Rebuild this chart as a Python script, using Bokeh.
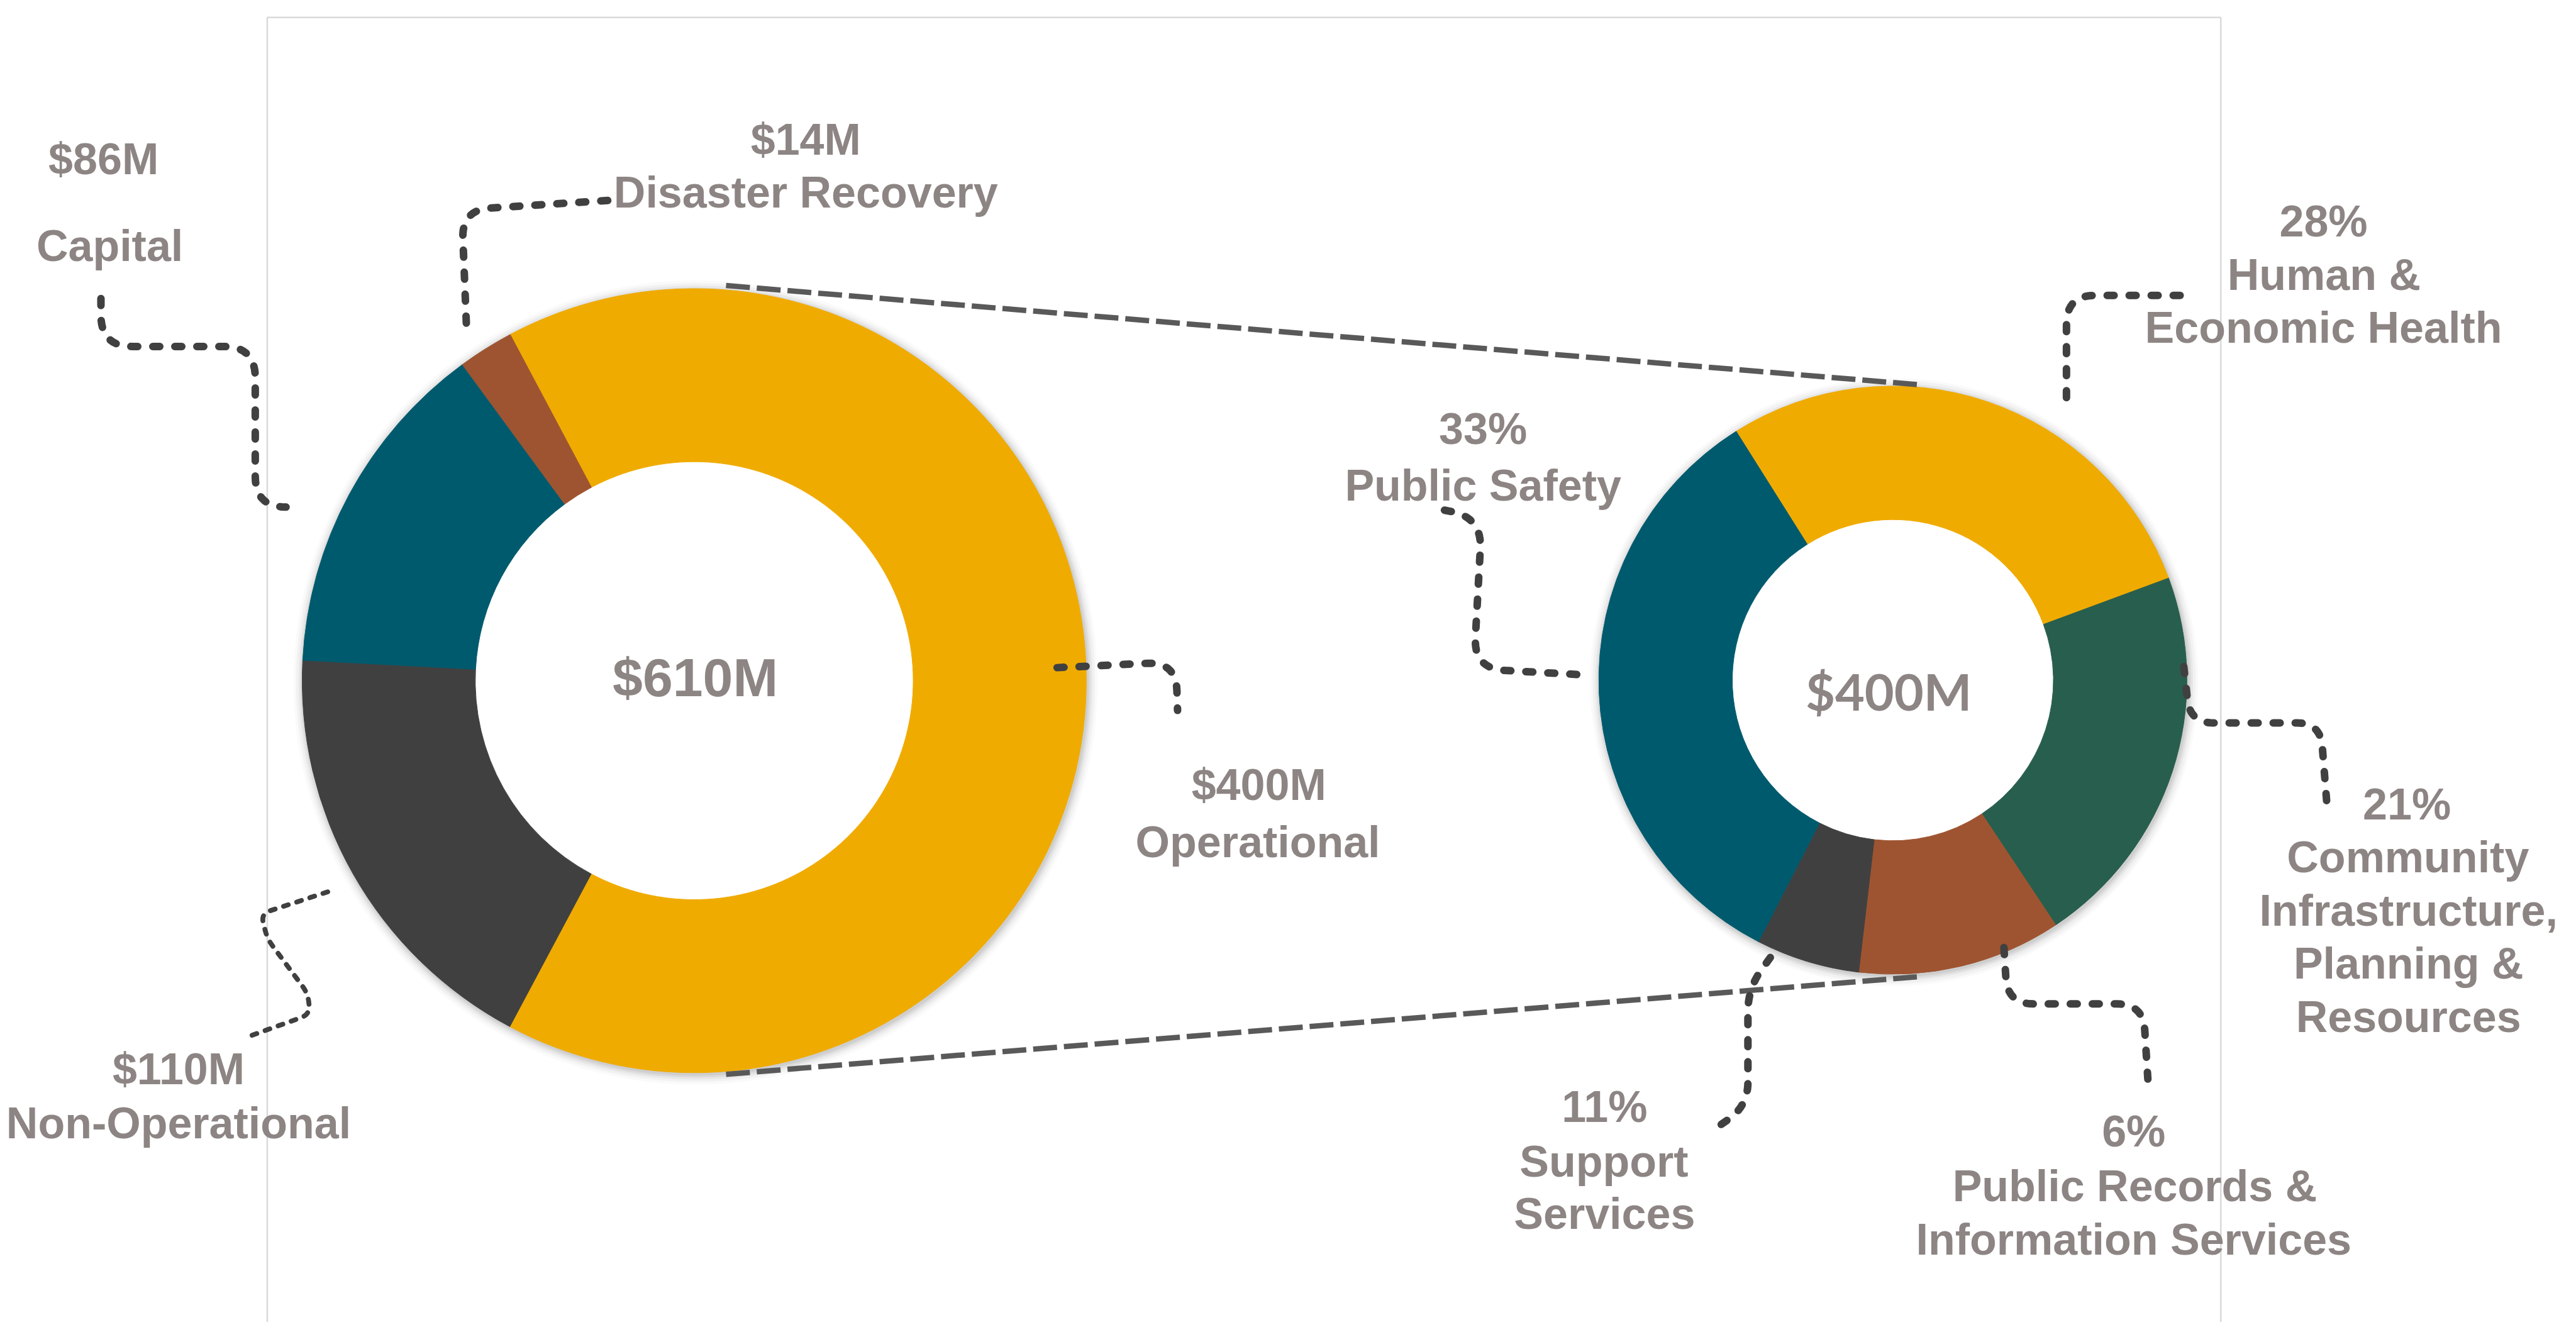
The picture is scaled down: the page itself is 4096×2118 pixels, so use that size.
import numpy as np
from bokeh.plotting import figure
from bokeh.models import Range1d, ColumnDataSource
from bokeh.core.properties import value
from bokeh.embed import file_html
from bokeh.resources import INLINE

# ---------------- data ----------------
left_names = ["Operational", "Non-Operational", "Capital", "Disaster Recovery"]
left_values = [400, 110, 86, 14]                      # $M
left_colors = ["#F0AB00", "#404040", "#005A6E", "#9E5431"]

right_names = ["Human & Economic Health", "Community Infrastructure, Planning & Resources",
               "Public Records & Information Services", "Support Services", "Public Safety"]
right_shares = [28.3, 21.3, 11.2, 5.7, 33.5]          # slice shares as drawn (%)
right_colors = ["#F0AB00", "#285E4D", "#9E5431", "#404040", "#005A6E"]
right_total = 400                                     # $M
right_pct_labels = ["28%", "21%", "6%", "11%", "33%"]  # percentages as printed

# ---------------- layout helpers ----------------
S = 0.829                       # reference px -> window px
TXT = "#8C8583"

def X(v):
    return v * S

def Y(v):
    return -v * S

p = figure(width=4080, height=2102, x_range=Range1d(0, 4080), y_range=Range1d(-2102, 0),
           output_backend="svg", toolbar_location=None, min_border=0,
           x_axis_location=None, y_axis_location=None)
p.grid.visible = False
p.outline_line_color = None
p.background_fill_color = "white"
p.border_fill_color = "white"

# plot-area border (light gray, open at bottom)
p.line(x=[X(512), X(512), X(4259), X(4259)], y=[Y(2700), Y(33), Y(33), Y(2700)],
       line_color="#D9D9D9", line_width=2.5)


def donut(cx, cy, R, r, vals, colors, start_cw_deg):
    total = float(sum(vals))
    starts, ends = [], []
    cum = 0.0
    for v in vals:
        starts.append(np.radians(90 - (start_cw_deg + cum / total * 360)))
        ends.append(np.radians(90 - (start_cw_deg + (cum + v) / total * 360)))
        cum += v
    # soft shadow
    for grow, a in [(2, 0.06), (5, 0.05), (8, 0.04), (12, 0.03), (16, 0.02)]:
        p.annulus(x=cx + 2, y=cy - 3, inner_radius=R - 6, outer_radius=R + grow,
                  fill_color="black", fill_alpha=a, line_color=None)
    src = ColumnDataSource(dict(start=starts, end=ends, color=colors))
    p.annular_wedge(x=cx, y=cy, inner_radius=r, outer_radius=R, start_angle="start",
                    end_angle="end", direction="clock", fill_color="color",
                    line_color="color", line_width=1, source=src)


# left donut (total $610M) and right donut (Operational $400M)
donut(X(1331), Y(1305), X(752), X(420), left_values, left_colors, 332)
donut(X(3630), Y(1304), X(564), X(308), right_shares, right_colors, 327.8)

# connector lines between the donuts
p.line(x=[X(1392), X(3676)], y=[Y(547), Y(737)], line_color="#595959", line_width=8.5,
       line_dash="38 11")
p.line(x=[X(1392), X(3676)], y=[Y(2060), Y(1873)], line_color="#595959", line_width=8.5,
       line_dash="38 11")


def rounded(pts, r, n=14):
    pts = [np.array(q, dtype=float) for q in pts]
    out = [pts[0]]
    m = len(pts)
    for i in range(1, m - 1):
        A, V, B = pts[i - 1], pts[i], pts[i + 1]
        d1 = V - A
        d2 = B - V
        l1 = np.hypot(*d1)
        l2 = np.hypot(*d2)
        rr = min(r, l1 if i == 1 else l1 / 2, l2 if i == m - 2 else l2 / 2)
        P1 = V - d1 / l1 * rr
        P2 = V + d2 / l2 * rr
        t = np.linspace(0, 1, n)[:, None]
        curve = (1 - t) ** 2 * P1 + 2 * (1 - t) * t * V + t ** 2 * P2
        out.extend(list(curve))
    out.append(pts[-1])
    arr = np.array(out)
    return X(arr[:, 0]), Y(arr[:, 1])


callouts = [
    ([(193, 572), (193, 664), (489, 664), (489, 972), (548, 972)], 60),
    ([(1165, 384), (885, 402), (894, 623)], 55),
    ([(2027, 1280), (2255, 1269), (2258, 1362)], 55),
    ([(4181, 566), (3963, 566), (3963, 772)], 55),
    ([(2770, 978), (2842, 992), (2826, 1282), (3040, 1294)], 60),
    ([(4188, 1278), (4200, 1386), (4450, 1386), (4463, 1548)], 45),
    ([(3395, 1836), (3352, 1895), (3352, 2120), (3284, 2168)], 45),
    ([(3843, 1817), (3850, 1925), (4110, 1925), (4120, 2084)], 50),
]
for pts, r in callouts:
    xs, ys = rounded(pts, r)
    p.line(x=xs, y=ys, line_color="#404040", line_width=12, line_dash="11 24",
           line_cap="round", line_join="round")

# thinner callout for Non-Operational
xs, ys = rounded([(628, 1710), (500, 1752), (512, 1800), (590, 1905), (594, 1945), (475, 1988)], 18)
p.line(x=xs, y=ys, line_color="#404040", line_width=7.7, line_dash="8 14",
       line_cap="round", line_join="round")

# ---------------- labels ----------------
FS = 70
lines = [
    (f"${left_values[2]}M", 198, 305),
    (left_names[2], 210, 471),
    (f"${left_values[3]}M", 1545, 267),
    (left_names[3], 1545, 369),
    (f"${left_values[0]}M", 2414, 1505),
    (left_names[0], 2412, 1615),
    (f"${left_values[1]}M", 342, 2050),
    (left_names[1], 342, 2154),
    (right_pct_labels[0], 4456, 424),
    ("Human &", 4457, 526),
    ("Economic Health", 4456, 628),
    (right_pct_labels[4], 2844, 822),
    (right_names[4], 2844, 931),
    (right_pct_labels[1], 4616, 1542),
    ("Community", 4618, 1644),
    ("Infrastructure,", 4619, 1746),
    ("Planning &", 4619, 1848),
    ("Resources", 4619, 1950),
    (right_pct_labels[3], 3077, 2123),
    ("Support", 3076, 2227),
    ("Services", 3077, 2328),
    (right_pct_labels[2], 4092, 2170),
    ("Public Records &", 4094, 2274),
    ("Information Services", 4092, 2377),
]
lab = ColumnDataSource(dict(x=[X(a[1]) for a in lines],
                            y=[Y(a[2]) for a in lines],
                            text=[a[0] for a in lines]))
p.text(x="x", y="y", text="text", source=lab, text_font=value("Liberation Sans"),
       text_font_style="bold", text_font_size=f"{FS}px", text_color=TXT,
       text_align="center", text_baseline="alphabetic")

# centre totals
p.text(x=[X(1333)], y=[Y(1298)], text=[f"${sum(left_values)}M"],
       text_font=value("Liberation Sans"), text_font_style="bold", text_font_size="86px",
       text_color=TXT, text_align="center", text_baseline="alphabetic")
p.text(x=[X(3622)], y=[Y(1325)], text=[f"${right_total}M"],
       text_font=value("Lato"), text_font_style="bold", text_font_size="81px",
       text_color=TXT, text_align="center", text_baseline="alphabetic")

open("out.html", "w").write(file_html(p, INLINE))
